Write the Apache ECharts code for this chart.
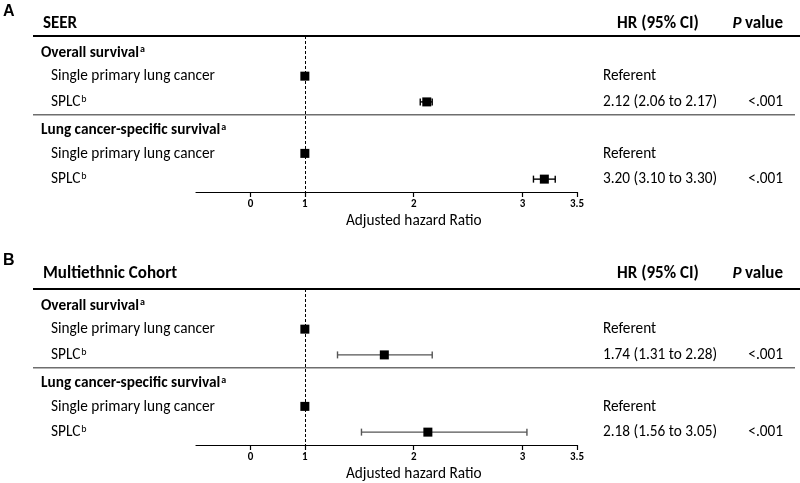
<!DOCTYPE html>
<html><head><meta charset="utf-8">
<script src="https://cdn.jsdelivr.net/npm/echarts@6/dist/echarts.min.js"></script>
<style>html,body{margin:0;padding:0;background:#fff}#c{width:800px;height:483px}</style>
</head><body><div id="c"></div>
<script>
// ---------- data ----------
const rowLabels = ['Overall survival', 'Single primary lung cancer', 'SPLC', 'Lung cancer-specific survival', 'Single primary lung cancer', 'SPLC'];
const rowSup = ['a', '', 'b', 'a', '', 'b'];
const rowBold = [true, false, false, true, false, false];
const panelLetters = ['A', 'B'];
const panelTitles = ['SEER', 'Multiethnic Cohort'];
const colHeaders = ['HR (95% CI)', 'P', 'value'];
const seerHRText = ['', 'Referent', '2.12 (2.06 to 2.17)', '', 'Referent', '3.20 (3.10 to 3.30)'];
const seerPText = ['', '', '<.001', '', '', '<.001'];
const mecHRText = ['', 'Referent', '1.74 (1.31 to 2.28)', '', 'Referent', '2.18 (1.56 to 3.05)'];
const mecPText = ['', '', '<.001', '', '', '<.001'];
// plotted marks (as drawn in the figure)
const seerHR = [null, 1, 2.12, null, 1, 3.20];
const seerLow = [null, null, 2.06, null, null, 3.10];
const seerHigh = [null, null, 2.17, null, null, 3.30];
const mecHR = [null, 1, 1.73, null, 1, 2.13];
const mecLow = [null, null, 1.30, null, null, 1.52];
const mecHigh = [null, null, 2.17, null, null, 3.04];
const xTickValues = [0.5, 1, 2, 3, 3.5];
const xTickLabels = ['0', '1', '2', '3', '3.5'];
const axisTitle = 'Adjusted hazard Ratio';
const refValue = 1;

// ---------- style ----------
const FF = 'Carlito, Calibri, Lato, sans-serif';
const FS = 15.3;
const HFS = 17;
const panels = [
  {top: 36, hr: seerHR, lo: seerLow, hi: seerHigh, hrText: seerHRText, pText: seerPText, ciColor: '#000', letterDy: -24, titleDy: -12},
  {top: 289, hr: mecHR, lo: mecLow, hi: mecHigh, hrText: mecHRText, pText: mecPText, ciColor: '#555', letterDy: -28, titleDy: -15}
];
const ROW_MIN = -0.56, ROW_MAX = 5.5;

const chart = echarts.init(document.getElementById('c'), null, {renderer: 'canvas'});
const grids = [], xAxes = [], yAxes = [], series = [], graphics = [];

panels.forEach((p, k) => {
  grids.push({left: 196, width: 381, top: p.top, height: 156, containLabel: false});
  xAxes.push({
    type: 'value', gridIndex: k, min: 0, max: 3.5, position: 'bottom',
    splitLine: {show: false},
    axisLine: {show: true, onZero: false, lineStyle: {color: '#000', width: 1.2}},
    axisTick: {show: true, customValues: xTickValues, length: 5, lineStyle: {color: '#000', width: 1.2}},
    axisLabel: {show: true, customValues: xTickValues, margin: 7,
      formatter: v => xTickLabels[xTickValues.indexOf(v)] ?? '',
      color: '#000', fontWeight: 'bold', fontSize: 11, fontFamily: FF}
  });
  yAxes.push({type: 'value', gridIndex: k, min: ROW_MIN, max: ROW_MAX, inverse: true, show: false});

  // lines: header rule, separator, axis title
  series.push({
    type: 'custom', xAxisIndex: k, yAxisIndex: k, silent: true, clip: false, z: 1,
    data: [[0, 0]],
    renderItem: (params, api) => {
      const yTop = api.coord([0, ROW_MIN])[1];
      const ySep = api.coord([0, 2.5])[1];
      const yAx = api.coord([0, ROW_MAX])[1];
      const xT = api.coord([2, 0])[0];
      return {type: 'group', children: [
        {type: 'line', shape: {x1: 33, y1: yTop, x2: 800, y2: yTop}, style: {stroke: '#000', lineWidth: 2}},
        {type: 'line', shape: {x1: 33, y1: ySep, x2: 795, y2: ySep}, style: {stroke: '#6e6e6e', lineWidth: 1.6}},
        {type: 'text', x: xT, y: yAx + 29, style: {text: axisTitle, align: 'center', verticalAlign: 'middle', font: FS + 'px ' + FF, fill: '#000'}}
      ]};
    }
  });

  // table text
  series.push({
    type: 'custom', xAxisIndex: k, yAxisIndex: k, silent: true, clip: false, z: 2,
    data: rowLabels.map((_, i) => [0, i]),
    renderItem: (params, api) => {
      const i = api.value(1);
      const y = api.coord([0, i])[1];
      const bold = rowBold[i];
      const lab = '{m|' + rowLabels[i] + '}' + (rowSup[i] ? '{s|' + rowSup[i] + '}' : '');
      const children = [{
        type: 'text', x: bold ? 41 : 51, y: y + (bold ? 2.5 : 0.5),
        style: {text: lab, verticalAlign: 'middle', align: 'left',
          rich: {
            m: {fontSize: FS, fontFamily: FF, fontWeight: bold ? 'bold' : 'normal', lineHeight: 16, verticalAlign: 'middle', fill: '#000'},
            s: {fontSize: 10, fontFamily: FF, fontWeight: bold ? 'bold' : 'normal', lineHeight: 16, verticalAlign: 'top', fill: '#000', padding: [0, 0, 0, 1]}
          }}
      }];
      if (p.hrText[i]) children.push({type: 'text', x: 603, y: y + 0.5, style: {text: p.hrText[i], verticalAlign: 'middle', align: 'left', font: FS + 'px ' + FF, fill: '#000'}});
      if (p.pText[i]) children.push({type: 'text', x: 783, y: y + 0.5, style: {text: p.pText[i], verticalAlign: 'middle', align: 'right', font: FS + 'px ' + FF, fill: '#000'}});
      return {type: 'group', children};
    }
  });

  // confidence intervals
  const ciData = [];
  p.lo.forEach((v, i) => { if (v != null) ciData.push([v, p.hi[i], i]); });
  series.push({
    type: 'custom', xAxisIndex: k, yAxisIndex: k, silent: true, z: 3,
    data: ciData,
    encode: {x: [0, 1], y: 2},
    renderItem: (params, api) => {
      const a = api.coord([api.value(0), api.value(2)]);
      const b = api.coord([api.value(1), api.value(2)]);
      const st = {stroke: p.ciColor, lineWidth: 1.4};
      const c = 3.5;
      return {type: 'group', children: [
        {type: 'line', shape: {x1: a[0], y1: a[1], x2: b[0], y2: b[1]}, style: st},
        {type: 'line', shape: {x1: a[0], y1: a[1] - c, x2: a[0], y2: a[1] + c}, style: st},
        {type: 'line', shape: {x1: b[0], y1: b[1] - c, x2: b[0], y2: b[1] + c}, style: st}
      ]};
    }
  });

  // point estimates + reference line
  const ptData = [];
  p.hr.forEach((v, i) => { if (v != null) ptData.push([v, i]); });
  series.push({
    type: 'scatter', xAxisIndex: k, yAxisIndex: k, z: 4, silent: true,
    symbol: 'rect', symbolSize: 9, itemStyle: {color: '#000', opacity: 1},
    data: ptData,
    markLine: {silent: true, symbol: ['none', 'none'], label: {show: false},
      lineStyle: {color: '#000', type: [3, 2], width: 1},
      data: [{xAxis: refValue}]}
  });

  // panel letter / titles / column headers
  graphics.push({type: 'text', x: 3, y: p.top + p.letterDy, style: {text: panelLetters[k], font: 'bold 16px "Liberation Sans", Arial, sans-serif', fill: '#000', verticalAlign: 'middle'}});
  graphics.push({type: 'text', x: 43, y: p.top + p.titleDy, style: {text: panelTitles[k], font: 'bold ' + HFS + 'px ' + FF, fill: '#000', verticalAlign: 'middle'}});
  graphics.push({type: 'text', x: 617, y: p.top + p.titleDy, style: {text: colHeaders[0], font: 'bold ' + HFS + 'px ' + FF, fill: '#000', verticalAlign: 'middle'}});
  graphics.push({type: 'text', x: 783, y: p.top + p.titleDy, style: {text: '{i|' + colHeaders[1] + '} {b|' + colHeaders[2] + '}', align: 'right', verticalAlign: 'middle',
    rich: {i: {fontStyle: 'italic', fontWeight: 'bold', fontSize: HFS, fontFamily: FF}, b: {fontWeight: 'bold', fontSize: HFS, fontFamily: FF}}}});
});

chart.setOption({
  animation: false,
  backgroundColor: '#fff',
  grid: grids, xAxis: xAxes, yAxis: yAxes, series: series, graphic: graphics
});
</script></body></html>
